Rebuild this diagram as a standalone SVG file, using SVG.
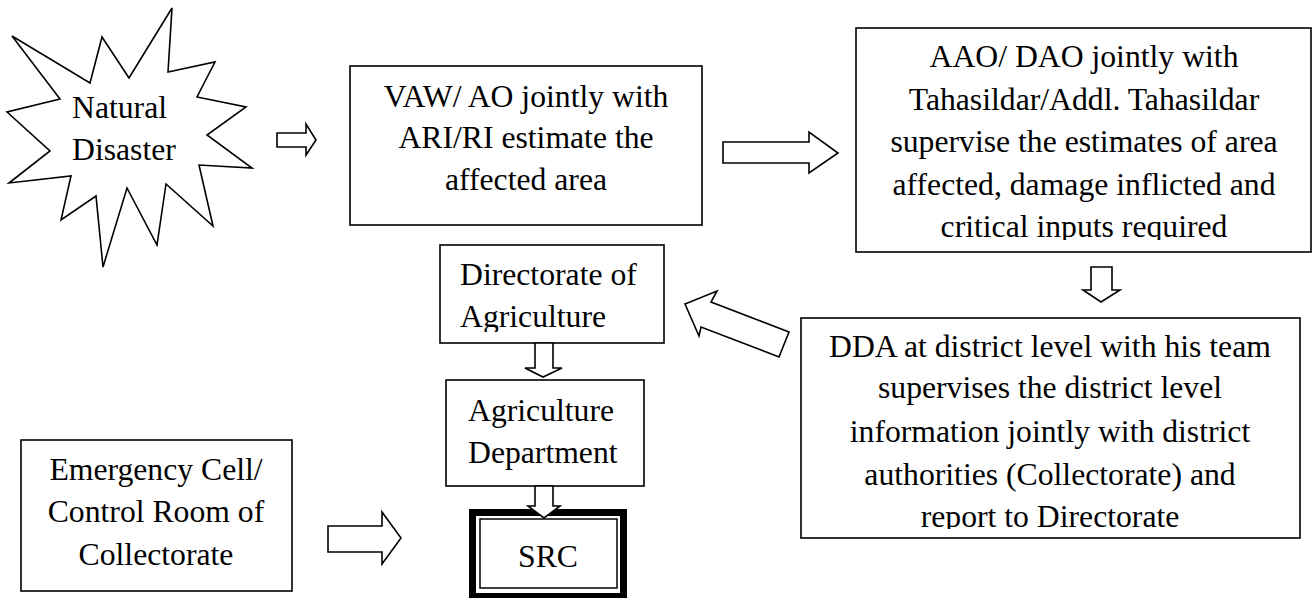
<svg xmlns="http://www.w3.org/2000/svg" width="1312" height="598" viewBox="0 0 1312 598">
<style>
.box{fill:#fff;stroke:#000;stroke-width:1.6}
.arr{fill:#fff;stroke:#000;stroke-width:1.6;stroke-linejoin:miter}
.t{font-family:"Liberation Serif","Times New Roman",serif;font-size:31.7px;fill:#000}
.c{text-anchor:middle}
</style>
<defs>
<clipPath id="clipAAO"><rect x="856" y="28" width="456" height="212"/></clipPath>
<clipPath id="clipDir"><rect x="440" y="245" width="224" height="87"/></clipPath>
<clipPath id="clipDDA"><rect x="801" y="318" width="499" height="211"/></clipPath>
</defs>
<rect width="1312" height="598" fill="#fff"/>

<g id="natural-disaster">
<polygon class="box" points="12,36 90,83 102,37 129,78 172,8 168,72 215,62 197,97 246,107 207,135 252,168 199,165 213,226 166,184 157,245 127,188 103,267 96,196 61,220 71,176 9,183 50,151 7,112 60,99"/>
<text class="t" x="72" y="118">Natural</text>
<text class="t" x="72" y="160">Disaster</text>
</g>

<g id="vaw">
<rect class="box" x="350" y="66" width="352" height="159"/>
<text class="t c" x="526" y="107">VAW/ AO jointly with</text>
<text class="t c" x="526" y="148">ARI/RI estimate the</text>
<text class="t c" x="526" y="190">affected area</text>
</g>

<g id="aao">
<rect class="box" x="856" y="28" width="455" height="224"/>
<g clip-path="url(#clipAAO)">
<text class="t c" x="1084" y="67">AAO/ DAO jointly with</text>
<text class="t c" x="1084" y="110">Tahasildar/Addl. Tahasildar</text>
<text class="t c" x="1084" y="152">supervise the estimates of area</text>
<text class="t c" x="1084" y="195">affected, damage inflicted and</text>
<text class="t c" x="1084" y="237">critical inputs required</text>
</g>
</g>

<g id="dda">
<rect class="box" x="801" y="318" width="499" height="220"/>
<g clip-path="url(#clipDDA)">
<text class="t c" x="1050" y="357">DDA at district level with his team</text>
<text class="t c" x="1050" y="398">supervises the district level</text>
<text class="t c" x="1050" y="442">information jointly with district</text>
<text class="t c" x="1050" y="485">authorities (Collectorate) and</text>
<text class="t c" x="1050" y="527">report to Directorate</text>
</g>
</g>

<g id="directorate">
<rect class="box" x="440" y="245" width="224" height="98"/>
<g clip-path="url(#clipDir)">
<text class="t" x="460" y="285">Directorate of</text>
<text class="t" x="460" y="327">Agriculture</text>
</g>
</g>

<g id="agri-dept">
<rect class="box" x="446" y="380" width="198" height="106"/>
<text class="t" x="468" y="421">Agriculture</text>
<text class="t" x="468" y="463">Department</text>
</g>

<g id="src">
<rect x="472.5" y="512.5" width="151" height="84" fill="#fff" stroke="#000" stroke-width="7"/>
<rect x="480" y="519" width="137" height="69" fill="none" stroke="#000" stroke-width="1.5"/>
<text class="t c" x="548" y="567">SRC</text>
</g>

<g id="emergency">
<rect class="box" x="21" y="440" width="271" height="151"/>
<text class="t c" x="156" y="480">Emergency Cell/</text>
<text class="t c" x="156" y="522">Control Room of</text>
<text class="t c" x="156" y="565">Collectorate</text>
</g>

<g id="connectors">
<polygon class="arr" points="277,133 306,133 306,124 316,140 306,155 306,147 277,147"/>
<polygon class="arr" points="723,142 809,142 809,132 838,153 809,173 809,163 723,163"/>
<polygon class="arr" points="1091,267 1112,267 1112,290 1120,290 1101,302 1083,290 1091,290"/>
<polygon class="arr" points="685,304 717,291 711,302 789,332 779,357 701,327 699,336"/>
<polygon class="arr" points="535,343 553,343 553,368 562,368 543,377 525,368 535,368"/>
<polygon class="arr" points="535,486 553,486 553,506 560,506 544,518 528,506 535,506"/>
<polygon class="arr" points="328,526 382,526 382,512 401,538 382,564 382,552 328,552"/>
</g>
</svg>
